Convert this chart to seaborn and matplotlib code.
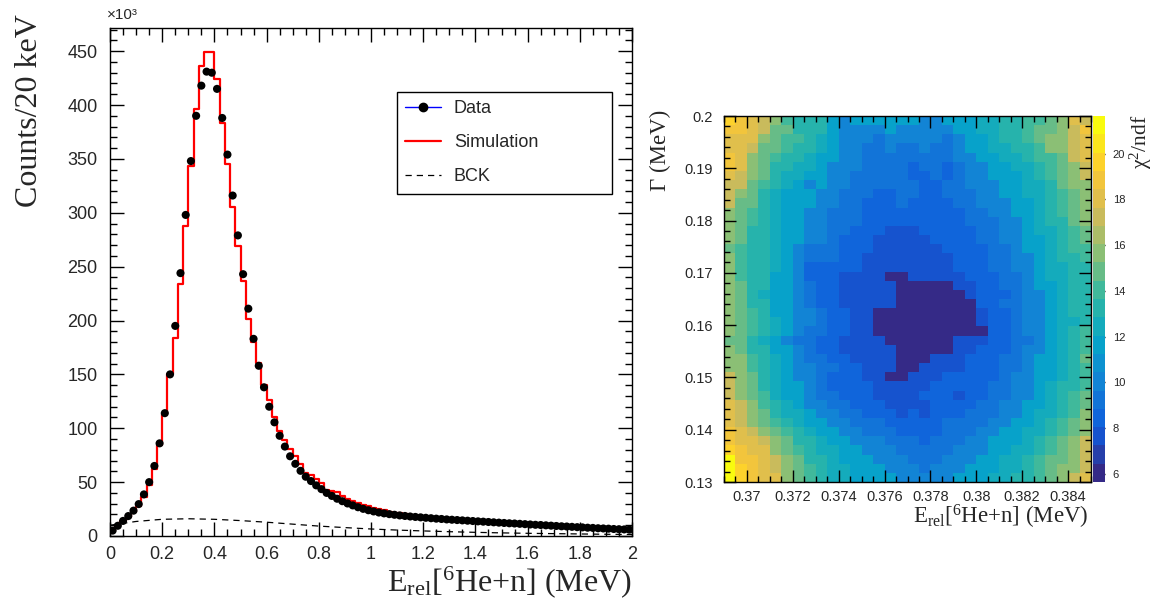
import numpy as np
import pandas as pd
import matplotlib
matplotlib.use("Agg")
import matplotlib.pyplot as plt
from matplotlib.colors import LinearSegmentedColormap, ListedColormap
from matplotlib.lines import Line2D
from matplotlib.ticker import MultipleLocator, FuncFormatter
import seaborn as sns

# ---- left panel: 20 keV bins, 0..2 MeV, counts in units of 1e3 ----
data_counts = [
    5.0, 9.5, 14.0, 18.5, 23.5, 29.6, 38.6, 50.0, 65.0, 86.0,
    114, 150, 195, 244, 298, 348, 390, 418, 431, 430,
    415, 388, 354, 316, 279, 243, 211, 183, 158, 138,
    120, 105.5, 93, 83, 74, 67, 60.5, 55, 51, 47,
    43.5, 40.0, 37.2, 34.6, 32.3, 30.2, 28.4, 26.7, 25.2, 23.9,
    22.8, 21.8, 21.0, 20.3, 19.7, 19.1, 18.6, 18.1, 17.7, 17.3,
    16.9, 16.5, 16.1, 15.8, 15.4, 15.1, 14.8, 14.5, 14.2, 13.9,
    13.6, 13.3, 13.0, 12.7, 12.4, 12.1, 11.8, 11.6, 11.3, 11.0,
    10.7, 10.4, 10.2, 9.9, 9.6, 9.3, 9.0, 8.8, 8.5, 8.2,
    8.0, 7.7, 7.5, 7.2, 7.0, 6.8, 6.5, 6.3, 6.1, 5.9,
]
sim_counts = [
    4.5, 9.0, 13.5, 17.5, 22.0, 28.0, 36.0, 47.0, 62.0, 84.0,
    113, 150, 184, 234, 288, 343, 396, 436, 449, 449,
    424, 383, 345, 305, 269, 237, 201, 180, 161, 140,
    126.5, 110.5, 97.5, 89, 81, 74.4, 66.7, 58.5, 56.5, 53,
    49, 43, 42, 41, 37, 34.5, 32.8, 31, 29.2, 27.6,
    26.3, 25.0, 23.8, 22.7, 21.8, 21.0, 20.3, 19.6, 19.0, 18.4,
    17.9, 17.4, 16.9, 16.5, 16.0, 15.6, 15.2, 14.9, 14.5, 14.2,
    13.8, 13.5, 13.2, 12.9, 12.6, 12.3, 12.0, 11.7, 11.4, 11.1,
    10.8, 10.5, 10.3, 10.0, 9.7, 9.4, 9.1, 8.9, 8.6, 8.3,
    8.1, 7.8, 7.6, 7.3, 7.1, 6.9, 6.6, 6.4, 6.2, 6.0,
]
bck_energy = [0.0, 0.1, 0.2, 0.3, 0.4, 0.5, 0.6, 0.7, 0.8, 0.9, 1.0,
              1.1, 1.2, 1.3, 1.4, 1.5, 1.6, 1.7, 1.8, 1.9, 2.0]
bck_counts = [10.0, 13.5, 15.5, 16.0, 15.5, 14.3, 12.8, 11.0, 9.2, 7.8, 6.5,
              5.5, 4.7, 4.0, 3.4, 2.9, 2.5, 2.2, 1.9, 1.6, 1.4]

# ---- right panel: chi2/ndf scan, top row is Gamma = 0.20 MeV ----
e_rel_range = (0.369, 0.385)
gamma_range = (0.13, 0.20)
chi2_ndf = [
    [20,19,18,17,16,14,13.2,13.2,13.2,11.5,10.2,11.5,11.5,11.5,11.5,11.5,11.5,10.2,10.2,11.5,11.5,11.5,12.5,12.5,13.2,13.2,14,14,15,16,18,17],
    [19,19,18,17,15,15,13.2,13.2,13.2,11.5,10.2,10.2,10.2,10.2,11.5,10.2,10.2,10.2,10.2,10.2,11.5,11.5,12.5,12.5,13.2,13.2,14,15,15,16,17,19],
    [18,18,18,16,15,14,14,13.2,12.5,11.5,10.2,10.2,10.2,9.3,10.2,10.2,10.2,10.2,10.2,9.3,10.2,11.5,11.5,12.5,13.2,13.2,14,15,16,16,17,18],
    [18,18,17,15,15,14,13.2,13.2,12.5,11.5,10.2,10.2,9.3,9.3,10.2,9.3,9.3,10.2,9.3,9.3,10.2,11.5,11.5,12.5,12.5,13.2,13.2,14,16,16,17,18],
    [19,18,16,15,14,13.2,13.2,12.5,11.5,11.5,10.2,10.2,9.3,9.3,9.3,9.3,9.3,9.3,9.3,9.3,10.2,10.2,11.5,11.5,12.5,12.5,13.2,14,14,15,17,18],
    [19,18,16,15,13.2,13.2,12.5,12.5,11.5,10.2,10.2,10.2,9.3,9.3,9.3,9.3,8.5,9.3,9.3,8.5,9.3,10.2,10.2,11.5,11.5,12.5,12.5,13.2,14,15,16,17],
    [18,17,16,15,13.2,12.5,12.5,11.5,11.5,10.2,10.2,9.3,9.3,9.3,9.3,9.3,8.5,8.5,9.3,8.5,9.3,10.2,10.2,11.5,11.5,11.5,12.5,13.2,14,15,16,17],
    [17,17,15,14,13.2,12.5,11.5,10.2,11.5,10.2,10.2,9.3,9.3,9.3,9.3,9.3,9.3,8.5,8.5,9.3,9.3,10.2,10.2,10.2,11.5,11.5,12.5,12.5,13.2,15,16,16],
    [17,16,15,13.2,12.5,11.5,11.5,11.5,10.2,10.2,9.3,9.3,9.3,8.5,8.5,9.3,9.3,8.5,8.5,9.3,9.3,9.3,10.2,10.2,11.5,11.5,12.5,12.5,13.2,14,15,16],
    [17,15,15,13.2,12.5,11.5,11.5,11.5,10.2,10.2,9.3,9.3,8.5,8.5,8.5,9.3,8.5,8.5,8.5,8.5,9.3,9.3,10.2,10.2,10.2,11.5,11.5,12.5,13.2,14,15,16],
    [16,15,14,13.2,12.5,11.5,11.5,10.2,10.2,9.3,9.3,9.3,8.5,8.5,8.5,8.5,8.5,8.5,8.5,8.5,8.5,9.3,9.3,10.2,10.2,11.5,11.5,12.5,13.2,14,15,16],
    [16,15,14,13.2,12.5,11.5,11.5,10.2,10.2,9.3,9.3,9.3,8.5,8.5,8.5,8.5,8.5,8.5,8.5,8.5,8.5,9.3,9.3,9.3,10.2,10.2,11.5,12.5,13.2,13.2,15,16],
    [16,15,13.2,13.2,12.5,11.5,11.5,10.2,10.2,9.3,9.3,8.5,8.5,8.5,7.7,7.7,7.7,8.5,8.5,8.5,8.5,8.5,9.3,9.3,10.2,10.2,11.5,12.5,12.5,13.2,14,15],
    [16,15,13.2,13.2,12.5,11.5,11.5,10.2,10.2,9.3,8.5,8.5,8.5,7.7,7.7,7.7,7.7,7.7,8.5,8.5,8.5,8.5,9.3,9.3,10.2,10.2,11.5,11.5,12.5,13.2,14,15],
    [15,14,13.2,13.2,12.5,11.5,10.2,9.3,9.3,9.3,8.5,8.5,8.5,7.7,7.7,7.7,7.7,7.7,7.7,8.5,8.5,8.5,8.5,9.3,9.3,10.2,11.5,11.5,12.5,13.2,14,14],
    [16,14,13.2,13.2,12.5,11.5,10.2,9.3,9.3,9.3,8.5,8.5,7.7,7.7,7.7,7.7,7.7,7.7,7.7,7.7,8.5,8.5,8.5,9.3,9.3,10.2,10.2,11.5,12.5,13.2,13.2,14],
    [16,14,13.2,13.2,12.5,11.5,10.2,8.5,8.5,8.5,8.5,8.5,7.7,7.7,7.7,7.7,7.7,7.7,7.7,7.7,8.5,8.5,8.5,9.3,9.3,10.2,10.2,11.5,12.5,12.5,13.2,13.2],
    [16,14,13.2,13.2,11.5,11.5,10.2,8.5,8.5,8.5,7.7,7.7,7.7,7.7,6,6,7.7,7.7,7.7,7.7,7.7,8.5,8.5,8.5,9.3,9.3,10.2,11.5,12.5,12.5,13.2,13.2],
    [16,15,13.2,13.2,11.5,11.5,10.2,9.3,8.5,8.5,7.7,7.7,7.7,7.7,7.7,6,6,6,6,6,7.7,7.7,8.5,8.5,9.3,9.3,10.2,11.5,11.5,12.5,13.2,13.2],
    [16,15,13.2,12.5,11.5,11.5,10.2,9.3,8.5,8.5,7.7,7.7,7.7,7.7,7.7,6,6,6,6,6,6,7.7,8.5,8.5,8.5,9.3,10.2,10.2,11.5,12.5,13.2,13.2],
    [16,15,13.2,13.2,11.5,11.5,10.2,9.3,8.5,8.5,7.7,7.7,7.7,7.7,7.7,6,6,6,6,6,6,6,8.5,8.5,9.3,9.3,10.2,10.2,11.5,12.5,13.2,13.2],
    [16,15,14,13.2,11.5,11.5,10.2,10.2,9.3,8.5,8.5,7.7,7.7,6,6,6,6,6,6,6,6,6,7.7,8.5,8.5,9.3,10.2,10.2,11.5,12.5,13.2,13.2],
    [16,15,14,13.2,12.5,11.5,10.2,10.2,9.3,8.5,8.5,7.7,7.7,6,6,6,6,6,6,6,6,6,7.7,8.5,8.5,9.3,10.2,10.2,11.5,12.5,12.5,13.2],
    [16,15,14,13.2,12.5,11.5,10.2,9.3,9.3,8.5,8.5,7.7,7.7,6,6,6,6,6,6,6,6,6,6,8.5,8.5,9.3,10.2,10.2,11.5,12.5,13.2,14],
    [15,15,13.2,12.5,11.5,10.2,9.3,9.3,8.5,8.5,7.7,7.7,7.7,7.7,6,6,6,6,6,6,7.7,7.7,7.7,8.5,8.5,9.3,9.3,10.2,11.5,12.5,13.2,14],
    [16,15,13.2,13.2,11.5,11.5,10.2,9.3,8.5,8.5,7.7,7.7,7.7,7.7,7.7,6,6,6,6,6,7.7,7.7,8.5,8.5,8.5,9.3,10.2,10.2,11.5,12.5,13.2,14],
    [16,16,14,13.2,12.5,11.5,10.2,9.3,9.3,8.5,8.5,7.7,7.7,7.7,7.7,6,6,6,7.7,7.7,7.7,8.5,8.5,8.5,9.3,9.3,10.2,11.5,11.5,12.5,13.2,15],
    [16,16,14,13.2,12.5,11.5,10.2,10.2,9.3,9.3,8.5,8.5,7.7,7.7,7.7,6,6,7.7,7.7,7.7,7.7,8.5,8.5,8.5,9.3,9.3,10.2,11.5,11.5,12.5,13.2,14],
    [17,16,15,13.2,12.5,11.5,10.2,10.2,9.3,8.5,8.5,8.5,7.7,7.7,6,6,7.7,7.7,7.7,8.5,8.5,8.5,8.5,8.5,9.3,10.2,10.2,11.5,11.5,12.5,13.2,14],
    [17,16,15,13.2,12.5,11.5,11.5,10.2,9.3,8.5,8.5,8.5,8.5,7.7,7.7,7.7,7.7,7.7,8.5,8.5,8.5,8.5,8.5,9.3,9.3,10.2,10.2,11.5,12.5,13.2,13.2,14],
    [17,16,15,14,12.5,11.5,11.5,10.2,9.3,9.3,8.5,8.5,8.5,7.7,7.7,7.7,7.7,8.5,8.5,8.5,7.7,8.5,8.5,9.3,9.3,10.2,10.2,11.5,12.5,13.2,14,15],
    [18,17,16,14,13.2,12.5,11.5,10.2,10.2,9.3,9.3,8.5,8.5,8.5,7.7,7.7,7.7,7.7,8.5,8.5,8.5,8.5,9.3,9.3,10.2,10.2,11.5,11.5,12.5,13.2,14,15],
    [18,17,16,15,13.2,12.5,12.5,11.5,10.2,10.2,9.3,9.3,8.5,8.5,8.5,7.7,8.5,7.7,8.5,8.5,8.5,9.3,9.3,9.3,10.2,10.2,11.5,12.5,12.5,13.2,14,16],
    [18,17,16,15,14,13.2,12.5,11.5,11.5,10.2,10.2,9.3,9.3,9.3,8.5,8.5,8.5,8.5,8.5,9.3,9.3,9.3,9.3,10.2,10.2,11.5,11.5,12.5,13.2,14,15,16],
    [19,18,17,16,15,14,13.2,12.5,11.5,11.5,10.2,10.2,9.3,9.3,9.3,8.5,8.5,8.5,8.5,9.3,9.3,9.3,10.2,10.2,11.5,11.5,12.5,12.5,13.2,14,15,16],
    [19,18,18,17,16,15,13.2,13.2,12.5,11.5,11.5,10.2,10.2,10.2,9.3,9.3,9.3,8.5,9.3,9.3,9.3,10.2,10.2,11.5,11.5,11.5,12.5,13.2,14,15,16,17],
    [20,19,18,18,16,15,14,13.2,12.5,12.5,11.5,11.5,10.2,10.2,10.2,9.3,9.3,9.3,9.3,9.3,10.2,10.2,10.2,11.5,11.5,12.5,12.5,13.2,14,15,16,17],
    [21,19,19,18,17,16,15,13.2,13.2,12.5,11.5,11.5,11.5,10.2,10.2,10.2,9.3,9.3,9.3,10.2,10.2,10.2,11.5,11.5,12.5,12.5,13.2,14,15,15,16,17],
    [21,20,19,18,17,16,15,14,13.2,12.5,12.5,11.5,11.5,11.5,10.2,10.2,10.2,9.3,10.2,10.2,10.2,11.5,11.5,11.5,12.5,12.5,13.2,14,15,16,16,17],
    [21.5,20,19,18,18,16,15,14,13.2,12.5,12.5,11.5,11.5,11.5,11.5,10.2,10.2,10.2,10.2,10.2,11.5,11.5,11.5,12.5,12.5,13.2,13.2,14,15,16,17,18],
]
e_ticks = [0.370, 0.372, 0.374, 0.376, 0.378, 0.380, 0.382, 0.384]
gamma_ticks = [0.13, 0.14, 0.15, 0.16, 0.17, 0.18, 0.19, 0.20]
cbar_ticks = [6, 8, 10, 12, 14, 16, 18, 20]
chi2_limits = (5.65, 21.65)

# ROOT "bird" palette
bird_stops = [0.0, 0.125, 0.25, 0.375, 0.5, 0.625, 0.75, 0.875, 1.0]
bird_rgb = [(0.2082, 0.1664, 0.5293), (0.0592, 0.3599, 0.8684), (0.0780, 0.5041, 0.8385),
            (0.0232, 0.6419, 0.7914), (0.1802, 0.7178, 0.6425), (0.5301, 0.7492, 0.4662),
            (0.8186, 0.7328, 0.3499), (0.9956, 0.7862, 0.1968), (0.9764, 0.9832, 0.0539)]

sns.set_style("ticks")
plt.rcParams["font.family"] = ["Liberation Sans", "DejaVu Sans"]
plt.rcParams["mathtext.fontset"] = "custom"
plt.rcParams["mathtext.rm"] = "Liberation Serif"
plt.rcParams["mathtext.it"] = "Liberation Serif:italic"
plt.rcParams["mathtext.bf"] = "Liberation Serif:bold"
serif = ["Liberation Serif", "DejaVu Serif"]

fig = plt.figure(figsize=(11.64, 6.08), dpi=100)
W, H = 1164.0, 608.0

# ---------------- left panel ----------------
ax = fig.add_axes([110 / W, 72 / H, 522 / W, 508 / H])

e_edges = np.round(np.arange(len(sim_counts) + 1) * 0.02, 2)
e_centers = e_edges[:-1] + 0.01
df_sim = pd.DataFrame({"E": e_edges, "counts": sim_counts + [sim_counts[-1]]})
df_data = pd.DataFrame({"E": e_centers, "counts": data_counts})
df_bck = pd.DataFrame({"E": bck_energy, "counts": bck_counts})

sns.lineplot(data=df_sim, x="E", y="counts", ax=ax, color="red", lw=1.6,
             drawstyle="steps-post", estimator=None, errorbar=None, zorder=2)
sns.lineplot(data=df_bck, x="E", y="counts", ax=ax, color="black", lw=0.9,
             linestyle=(0, (5, 4)), estimator=None, errorbar=None, zorder=2)
sns.scatterplot(data=df_data, x="E", y="counts", ax=ax, color="black", s=34,
                edgecolor="none", zorder=3)

ax.set_xlim(0, 2)
ax.set_ylim(0, 471.5)
ax.set_xlabel("")
ax.set_ylabel("")
ax.xaxis.set_major_locator(MultipleLocator(0.2))
ax.xaxis.set_minor_locator(MultipleLocator(0.05))
ax.yaxis.set_major_locator(MultipleLocator(50))
ax.yaxis.set_minor_locator(MultipleLocator(10))
ax.xaxis.set_major_formatter(FuncFormatter(lambda v, p: f"{v:g}"))
ax.tick_params(which="both", direction="in", top=True, right=True, color="black", width=1)
ax.tick_params(which="major", length=10, labelsize=13)
ax.tick_params(which="minor", length=5)
ax.tick_params(axis="x", pad=7)
ax.tick_params(axis="y", pad=9)
for s in ax.spines.values():
    s.set_visible(True)
    s.set_color("black")
    s.set_linewidth(1)

handles = [
    Line2D([], [], color="blue", lw=1, marker="o", markersize=6,
           markerfacecolor="black", markeredgecolor="black"),
    Line2D([], [], color="red", lw=1.6),
    Line2D([], [], color="black", lw=0.9, linestyle=(0, (5, 4))),
]
leg = ax.legend(handles, ["Data", "Simulation", "BCK"], loc="upper left",
                bbox_to_anchor=(0.55, 0.681, 0.412, 0.193), mode="expand",
                fontsize=13, frameon=True, fancybox=False, framealpha=1,
                edgecolor="black", borderpad=0.45, labelspacing=0.95,
                handlelength=2.0, handletextpad=0.7, borderaxespad=0)
leg.get_frame().set_linewidth(1)

ax.text(-0.005, 1.026, "×10³", transform=ax.transAxes, ha="left", va="center", fontsize=11)
fig.text(30 / W, 1 - 14 / H, "Counts/20 keV", rotation=90, ha="center", va="top",
         fontsize=23, family=serif)
fig.text(632 / W, 1 - 582 / H, r"E$_{\mathrm{rel}}$[$^{6}$He+n] (MeV)", ha="right",
         va="center", fontsize=23, family=serif)

# ---------------- right panel ----------------
chi2 = np.array(chi2_ndf, dtype=float)
assert chi2.shape == (40, 32), chi2.shape
n_rows, n_cols = chi2.shape
dx = (e_rel_range[1] - e_rel_range[0]) / n_cols
dy = (gamma_range[1] - gamma_range[0]) / n_rows

bird = LinearSegmentedColormap.from_list("bird", list(zip(bird_stops, bird_rgb)))
bird20 = ListedColormap(bird(np.linspace(0, 1, 20)))

ax2 = fig.add_axes([724 / W, 126 / H, 367 / W, 366 / H])
cax = fig.add_axes([1093 / W, 126 / H, 12 / W, 366 / H])
sns.heatmap(pd.DataFrame(chi2), ax=ax2, cbar_ax=cax, cmap=bird20,
            vmin=chi2_limits[0], vmax=chi2_limits[1],
            xticklabels=False, yticklabels=False)

ax2.set_axisbelow(False)
ax2.set_xticks([(v - e_rel_range[0]) / dx for v in e_ticks])
ax2.set_xticklabels([f"{v:g}" for v in e_ticks])
ax2.set_xticks(np.arange(0, n_cols + 1), minor=True)
ax2.set_yticks([(gamma_range[1] - g) / dy for g in gamma_ticks])
ax2.set_yticklabels([f"{g:g}" for g in gamma_ticks])
ax2.set_yticks([(gamma_range[1] - g) / dy for g in np.arange(0.13, 0.2001, 0.002)], minor=True)
ax2.tick_params(which="both", direction="in", top=True, right=True, color="black", width=1,
                bottom=True, left=True)
ax2.tick_params(which="major", length=8.5, labelsize=10.5)
ax2.tick_params(which="minor", length=4)
ax2.tick_params(axis="x", pad=6)
ax2.tick_params(axis="y", pad=8)
ax2.set_xlabel("")
ax2.set_ylabel("")
for s in ax2.spines.values():
    s.set_visible(True)
    s.set_color("black")
    s.set_linewidth(1)

cbar = ax2.collections[0].colorbar
cbar.set_ticks(cbar_ticks)
cbar.outline.set_visible(False)
cax.tick_params(direction="in", length=9, width=1, color="black", labelsize=8, pad=5.5)

fig.text(660 / W, 1 - 110 / H, "Γ (MeV)", rotation=90, ha="center", va="top",
         fontsize=16.5, family=serif)
fig.text(1089 / W, 1 - 524 / H, r"E$_{\mathrm{rel}}$[$^{6}$He+n] (MeV)", ha="right",
         va="baseline", fontsize=16.5, family=serif)
fig.text(1141 / W, 1 - 115 / H, r"χ$^{2}$/ndf", rotation=90, ha="center", va="top",
         fontsize=15.5, family=serif)

fig.savefig("out.png", dpi=100)
